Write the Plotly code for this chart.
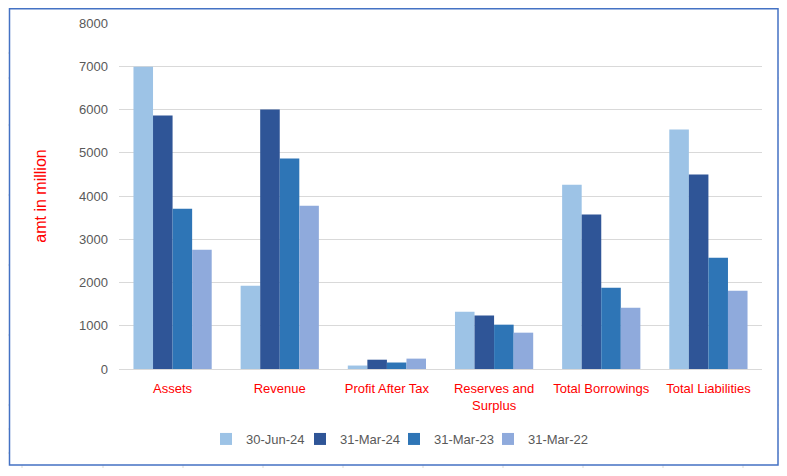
import plotly.graph_objects as go

# chart data
categories = ["Assets", "Revenue", "Profit After Tax", "Reserves and<br>Surplus",
              "Total Borrowings", "Total Liabilities"]
jun_24 = [6990, 1925, 80, 1325, 4260, 5535]
mar_24 = [5860, 6000, 215, 1235, 3570, 4495]
mar_23 = [3705, 4865, 150, 1025, 1880, 2575]
mar_22 = [2760, 3775, 240, 840, 1415, 1810]
series_names = ["30-Jun-24", "31-Mar-24", "31-Mar-23", "31-Mar-22"]
colors = ["#9DC3E6", "#2F5597", "#2E75B6", "#8FAADC"]
y_ticks = [0, 1000, 2000, 3000, 4000, 5000, 6000, 7000, 8000]

# the page body has an 8px margin, so the figure starts at (8, 8) on screen;
# keep the figure inside the window so no scrollbars show up
OFF = 8
W, H = 787 - 2 * OFF, 476 - 2 * OFF
L, R, T, B = 119, 762, 23, 369   # plot area, screen pixels


def px_x(p):
    return (p - L) / (R - L)


def px_y(p):
    return (B - p) / (B - T)


fig = go.Figure()
for name, vals, col in zip(series_names, [jun_24, mar_24, mar_23, mar_22], colors):
    fig.add_trace(go.Bar(x=categories, y=vals, name=name, marker_color=col,
                         marker_line_width=0))
# empty legend slot so the last legend label is not clipped
fig.add_trace(go.Scatter(x=[None], y=[None], mode="markers", name=" ",
                         marker=dict(color="rgba(0,0,0,0)"), hoverinfo="skip"))

# spreadsheet cell lines behind the chart, then the chart box on top
shapes = []
grey = "#D9D9D9"
for xc in [22, 103, 183, 263, 343, 423, 503, 583, 663, 743]:
    shapes.append(dict(type="line", xref="paper", yref="paper", layer="below",
                       x0=px_x(xc), x1=px_x(xc), y0=px_y(0), y1=px_y(476),
                       line=dict(color=grey, width=1)))
for yc in [53, 78, 125, 195, 265, 335, 405, 429, 453]:
    shapes.append(dict(type="line", xref="paper", yref="paper", layer="below",
                       x0=px_x(0), x1=px_x(787), y0=px_y(yc), y1=px_y(yc),
                       line=dict(color=grey, width=1)))
shapes.append(dict(type="rect", xref="paper", yref="paper", layer="below",
                   x0=px_x(9.5), x1=px_x(778), y0=px_y(465), y1=px_y(8.8),
                   fillcolor="white", line=dict(color="#4472C4", width=1.5)))

fig.update_layout(
    width=W, height=H,
    margin=dict(l=L - OFF, r=W - (R - OFF), t=T - OFF, b=H - (B - OFF),
                autoexpand=False),
    paper_bgcolor="white",
    plot_bgcolor="rgba(0,0,0,0)",
    barmode="group",
    bargap=0.27,
    bargroupgap=0,
    font=dict(family="Liberation Sans, Arial, sans-serif", size=13, color="#595959"),
    showlegend=True,
    legend=dict(orientation="h", x=px_x(206), xanchor="left",
                y=px_y(439), yanchor="middle", entrywidth=49,
                font=dict(size=13, color="#595959"),
                bgcolor="rgba(0,0,0,0)"),
    shapes=shapes,
)
fig.update_xaxes(showgrid=False, showline=False, ticks="", ticklabelstandoff=10,
                 tickfont=dict(color="red", size=13))
fig.update_yaxes(range=[0, 8000], tickvals=y_ticks, showgrid=True,
                 gridcolor=grey, gridwidth=1, zeroline=True, zerolinecolor=grey,
                 zerolinewidth=1, showline=False, ticks="", ticklabelstandoff=10,
                 tickfont=dict(color="#595959", size=13),
                 title=dict(text="amt in million", font=dict(color="red", size=16),
                            standoff=28))

fig.write_html("out.html")
